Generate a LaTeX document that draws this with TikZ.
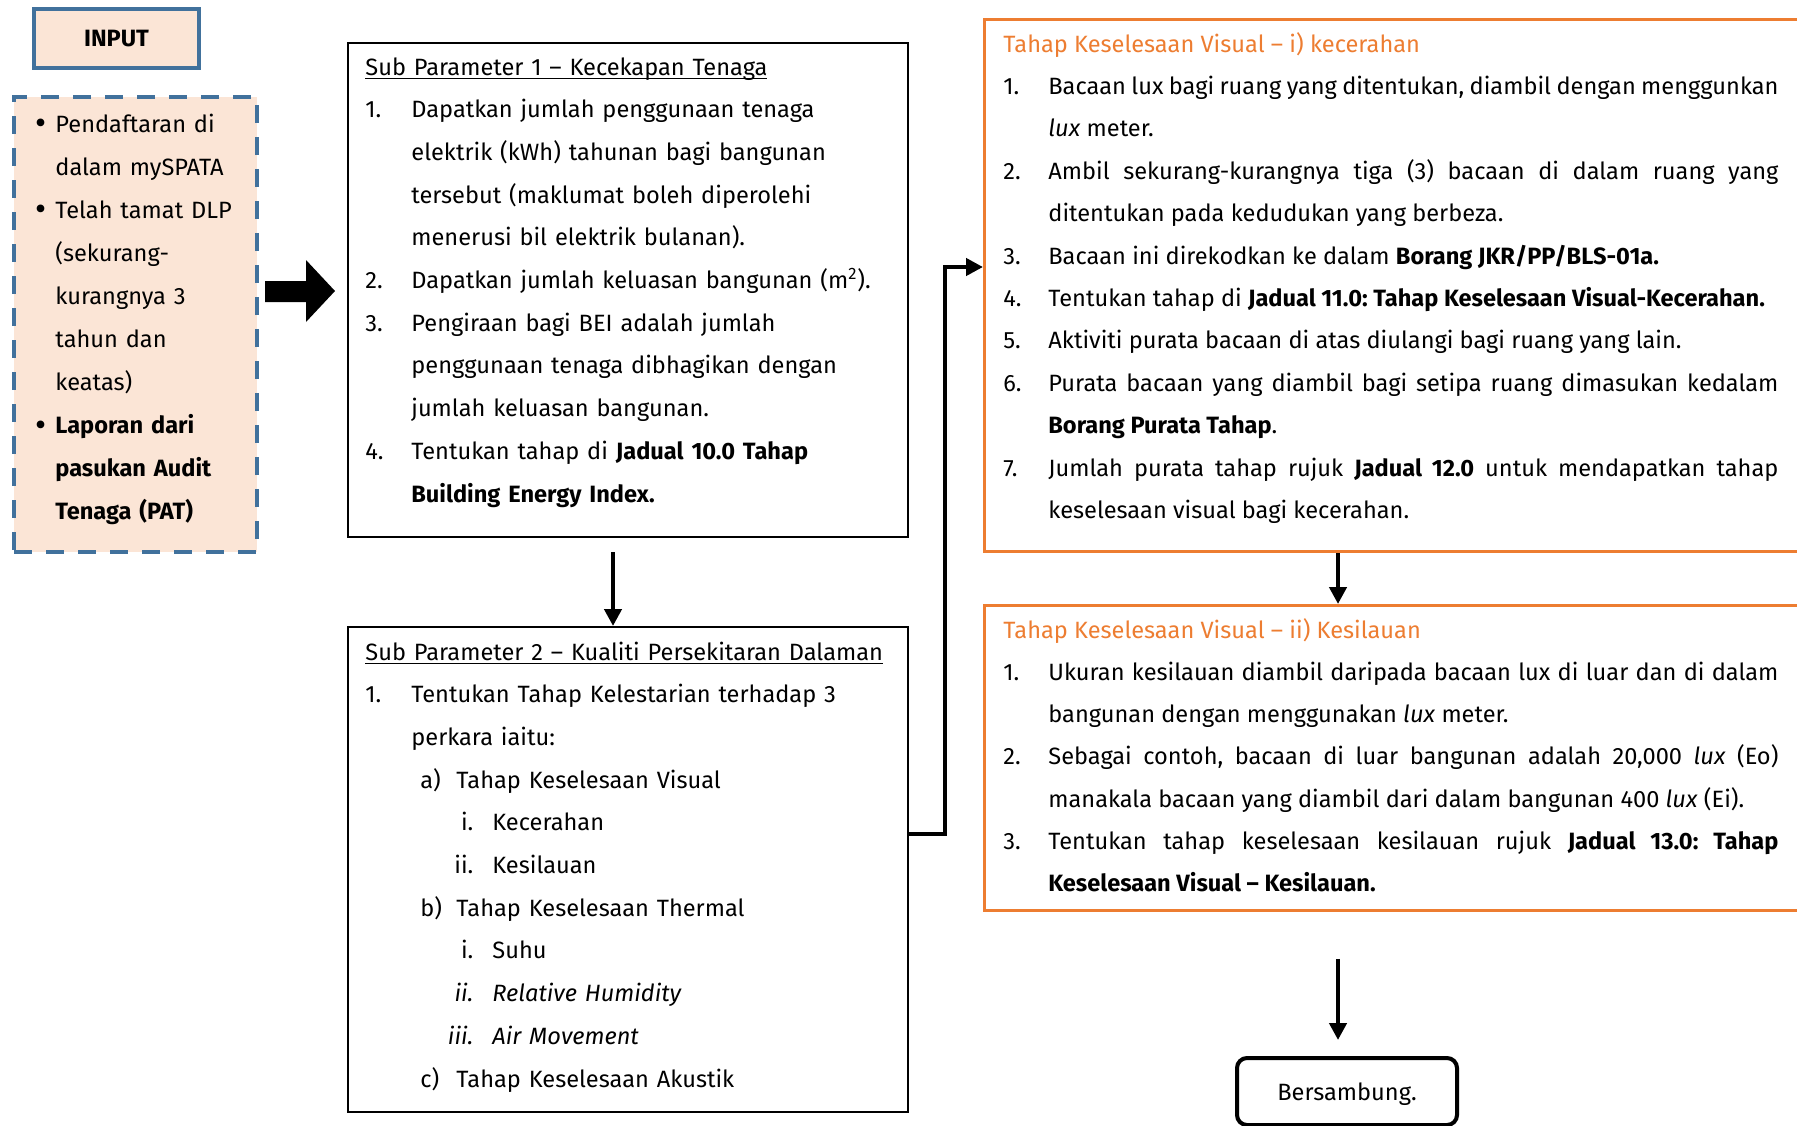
\documentclass[tikz,border=0pt]{standalone}
\usepackage{fontspec}
\setmainfont{Fira Sans}
\usetikzlibrary{arrows.meta}

\definecolor{oren}{HTML}{ED7D31}
\definecolor{birugelap}{HTML}{41719C}
\definecolor{pic}{HTML}{FBE5D6}

% butiran bernombor
\newlength\lekuk
\setlength\lekuk{23pt}
\newcommand\butir[2]{\noindent\hangindent=\lekuk\hangafter=1\makebox[\lekuk][l]{#1}#2\par}
\newcommand\titik[1]{\noindent\hangindent=10pt\hangafter=1\makebox[10pt][l]{\raisebox{-1.3pt}{\fontsize{17pt}{17pt}\selectfont •}}#1\par}
\newcommand\anak[2]{\noindent\hspace*{27.5pt}\makebox[18pt][l]{#1}#2\par}
\newcommand\cucu[2]{\noindent\makebox[54pt][r]{#1}\hspace*{9.5pt}#2\par}
\newcommand\garis[1]{\leavevmode\setbox0\hbox{#1}\rlap{\rule[-2pt]{\wd0}{0.7pt}}\box0}

\tikzset{
  kotak/.style={draw, line width=1pt, anchor=north west, inner sep=0pt},
  kotakoren/.style={kotak, draw=oren, line width=1.4pt},
  teks/.style={anchor=base west, inner sep=0pt, font=\fontsize{11.8pt}{21.35pt}\selectfont\frenchspacing},
  panah/.style={line width=2.4pt, -{Triangle[length=8.5pt,width=8.5pt]}},
}

\begin{document}
\begin{tikzpicture}[x=0.5pt,y=-0.5pt]
\useasboundingbox (0,0) rectangle (1797,1125);

% --- input ---
\node[kotak, draw=birugelap, line width=2pt, fill=pic, minimum width=82.5pt, minimum height=29.5pt,
      font=\bfseries\fontsize{11.8pt}{14pt}\selectfont] (input) at (32,7) {INPUT};

\node[kotak, draw=birugelap, line width=2.2pt, dash pattern=on 9pt off 7pt, fill=pic,
      minimum width=121.5pt, minimum height=227.5pt] (syarat) at (12,95) {};
\node[teks, text width=115pt, align=left, font=\fontsize{11.8pt}{21.55pt}\selectfont] (tsyarat) at (35,132) {%
\titik{Pendaftaran di\newline dalam mySPATA}
\titik{Telah tamat DLP\newline (sekurang-\newline kurangnya 3\newline tahun dan\newline keatas)}
\titik{\textbf{Laporan dari\newline pasukan Audit\newline Tenaga (PAT)}}};

% anak panah besar
\fill (265,281) -- (306,281) -- (306,260) -- (335,291) -- (306,322) -- (306,302) -- (265,302) -- cycle;

% --- sub parameter 1 ---
\node[kotak, minimum width=280pt, minimum height=247pt] (sp1) at (347,42) {};
\node[teks, text width=262pt, align=left] (tsp1) at (365,75) {%
\garis{Sub Parameter 1 – Kecekapan Tenaga}\par
\butir{1.}{Dapatkan jumlah penggunaan tenaga\newline elektrik (kWh) tahunan bagi bangunan\newline tersebut (maklumat boleh diperolehi\newline menerusi bil elektrik bulanan).}
\butir{2.}{Dapatkan jumlah keluasan bangunan (m\textsuperscript{2}).}
\butir{3.}{Pengiraan bagi BEI adalah jumlah\newline penggunaan tenaga dibhagikan dengan\newline jumlah keluasan bangunan.}
\butir{4.}{Tentukan tahap di \textbf{Jadual 10.0 Tahap}\newline \textbf{Building Energy Index.}}};

% --- sub parameter 2 ---
\node[kotak, minimum width=280pt, minimum height=242.5pt] (sp2) at (347,626) {};
\node[teks, text width=262pt, align=left] (tsp2) at (365,660) {%
\garis{Sub Parameter 2 – Kualiti Persekitaran Dalaman}\par
\butir{1.}{Tentukan Tahap Kelestarian terhadap 3\newline perkara iaitu:}
\anak{a)}{Tahap Keselesaan Visual}
\cucu{i.}{Kecerahan}
\cucu{ii.}{Kesilauan}
\anak{b)}{Tahap Keselesaan Thermal}
\cucu{i.}{Suhu}
\cucu{\textit{ii.}}{\textit{Relative Humidity}}
\cucu{\textit{iii.}}{\textit{Air Movement}}
\anak{c)}{Tahap Keselesaan Akustik}};

% --- visual i) kecerahan ---
\node[kotakoren, minimum width=416pt, minimum height=266pt] (vis1) at (983,18) {};
\node[teks, text width=387.5pt, align=justify, font=\fontsize{11.8pt}{21.2pt}\selectfont\frenchspacing] (tvis1) at (1003,52) {%
\setlength\lekuk{22.5pt}%
\textcolor{oren}{Tahap Keselesaan Visual – i) kecerahan}\par
\butir{1.}{Bacaan lux bagi ruang yang ditentukan, diambil dengan menggunkan \linebreak \textit{lux} meter.}
\butir{2.}{Ambil sekurang-kurangnya tiga (3) bacaan di dalam ruang yang \linebreak ditentukan pada kedudukan yang berbeza.}
\butir{3.}{Bacaan ini direkodkan ke dalam \textbf{Borang JKR/PP/BLS-01a.}}
\butir{4.}{Tentukan tahap di \textbf{Jadual 11.0: Tahap Keselesaan Visual-Kecerahan.}}
\butir{5.}{Aktiviti purata bacaan di atas diulangi bagi ruang yang lain.}
\butir{6.}{Purata bacaan yang diambil bagi setipa ruang dimasukan kedalam \linebreak \textbf{Borang Purata Tahap}.}
\butir{7.}{Jumlah purata tahap rujuk \textbf{Jadual 12.0} untuk mendapatkan tahap \linebreak keselesaan visual bagi kecerahan.}};

% --- visual ii) kesilauan ---
\node[kotakoren, minimum width=416pt, minimum height=152.5pt] (vis2) at (983,604) {};
\node[teks, text width=387.5pt, align=justify, font=\fontsize{11.8pt}{21.15pt}\selectfont\frenchspacing] (tvis2) at (1003,638) {%
\setlength\lekuk{22.5pt}%
\textcolor{oren}{Tahap Keselesaan Visual – ii) Kesilauan}\par
\butir{1.}{Ukuran kesilauan diambil daripada bacaan lux di luar dan di dalam \linebreak bangunan dengan menggunakan \textit{lux} meter.}
\butir{2.}{Sebagai contoh, bacaan di luar bangunan adalah 20,000 \textit{lux} (Eo) \linebreak manakala bacaan yang diambil dari dalam bangunan 400 \textit{lux} (Ei).}
\butir{3.}{Tentukan tahap keselesaan kesilauan rujuk \textbf{Jadual 13.0: Tahap} \linebreak \textbf{Keselesaan Visual – Kesilauan.}}};

% --- bersambung ---
\node[kotak, line width=2pt, rounded corners=5pt, minimum width=110pt, minimum height=33.5pt, text depth=0pt,
      font=\fontsize{11.8pt}{14pt}\selectfont] (sambung) at (1235,1056) {Bersambung.};

% --- anak panah ---
\coordinate (belok) at (945,267);
\draw[panah, shorten <=7pt] ([xshift=-7.5pt]sp1.south) -- ([xshift=-7.5pt]sp2.north);
\draw[panah] ([yshift=17.75pt]sp2.east) -| (belok) -- (belok -| vis1.west);
\draw[panah] ([xshift=177.5pt]vis1.south west) -- ([xshift=177.5pt]vis2.north west);
\draw[panah, shorten <=23.5pt, shorten >=8pt] ([xshift=177.5pt]vis2.south west) -- ([xshift=177.5pt]vis2.south west |- sambung.north);

\end{tikzpicture}
\end{document}
